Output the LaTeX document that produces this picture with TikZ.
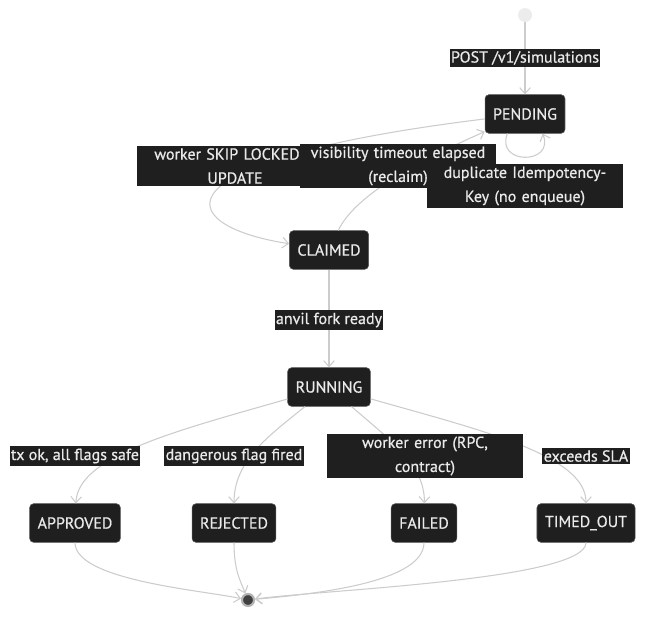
\documentclass[tikz,border=0pt]{standalone}
\usepackage{fontspec}
\setmainfont{PT Sans}[FakeBold=0.6]
\usetikzlibrary{arrows.meta}
\definecolor{nodefill}{HTML}{1F1F1F}
\definecolor{nodeline}{HTML}{555555}
\definecolor{txtcol}{HTML}{EAEAEA}
\definecolor{edgecol}{HTML}{CCCCCC}

\begin{document}
\begin{tikzpicture}[x=0.75pt, y=-0.75pt,
   font=\fontsize{12}{18}\selectfont,
   st/.style={draw=nodeline, fill=nodefill, text=txtcol, rounded corners=3pt,
              minimum height=29pt, inner xsep=6pt},
   lbl/.style={fill=nodefill, text=txtcol, inner xsep=1pt, inner ysep=2pt},
   wlbl/.style={lbl, text width=145pt, align=center},
   tr/.style={draw=edgecol, line width=0.8pt, -{Straight Barb[length=4.5pt, width=8pt]}}]
   \useasboundingbox (0,0) rectangle (660,622);
   % states
   \node[circle, fill=gray!15, minimum size=10.5pt, inner sep=0pt] (init) at (525,15) {};
   \node[st] (pend) at (525,114) {PENDING};
   \node[st] (claim) at (329,250) {CLAIMED};
   \node[st] (run) at (329,387) {RUNNING};
   \node[st] (appr) at (75,523) {APPROVED};
   \node[st] (rej) at (234,523) {REJECTED};
   \node[st] (fail) at (424,523) {FAILED};
   \node[st] (tout) at (586,523) {TIMED\_OUT};
   \node[circle, fill=black!75, draw=gray!60, line width=1.6pt, minimum size=9pt, inner sep=0pt] (fin) at (248,600) {};
   % transitions
   \draw[tr] (init) -- (pend);
   \draw[tr] (pend) .. controls (150,160) and (170,225) .. (claim);
   \draw[tr] (claim) .. controls (355,195) and (420,160) .. (pend);
   \draw[tr] (pend.-132) .. controls (495,165) and (555,165) .. (pend.-48);
   \draw[tr] (claim) -- (run);
   \draw[tr] (run) .. controls (180,430) and (78,455) .. (appr);
   \draw[tr] (run) .. controls (270,435) and (234,460) .. (rej);
   \draw[tr] (run) .. controls (390,440) and (425,465) .. (fail);
   \draw[tr] (run) .. controls (480,430) and (586,455) .. (tout);
   \draw[tr] (appr) .. controls (75,580) and (200,590) .. (fin);
   \draw[tr] (rej) .. controls (234,570) and (240,580) .. (fin);
   \draw[tr] (fail) .. controls (424,585) and (300,595) .. (fin);
   \draw[tr] (tout) .. controls (586,580) and (320,590) .. (fin);
   % labels
   \node[lbl] (lpost) at (525,58) {POST /v1/simulations};
   \node[wlbl] (lskip) at (235,166) {worker SKIP LOCKED\hspace*{12pt}\mbox{}\\UPDATE};
   \node[wlbl] (lvis) at (398,166) {visibility timeout elapsed\\(reclaim)};
   \node[wlbl] (ldup) at (525,186) {duplicate Idempotency-\\Key (no enqueue)};
   \node[lbl] (lfork) at (329,320) {anvil fork ready};
   \node[lbl] (lok) at (75,456) {tx ok, all flags safe};
   \node[lbl] (ldanger) at (234,456) {dangerous flag fired};
   \node[wlbl] (lerr) at (425,456) {worker error (RPC,\\contract)};
   \node[lbl] (lsla) at (586,456) {exceeds SLA};
\end{tikzpicture}
\end{document}
